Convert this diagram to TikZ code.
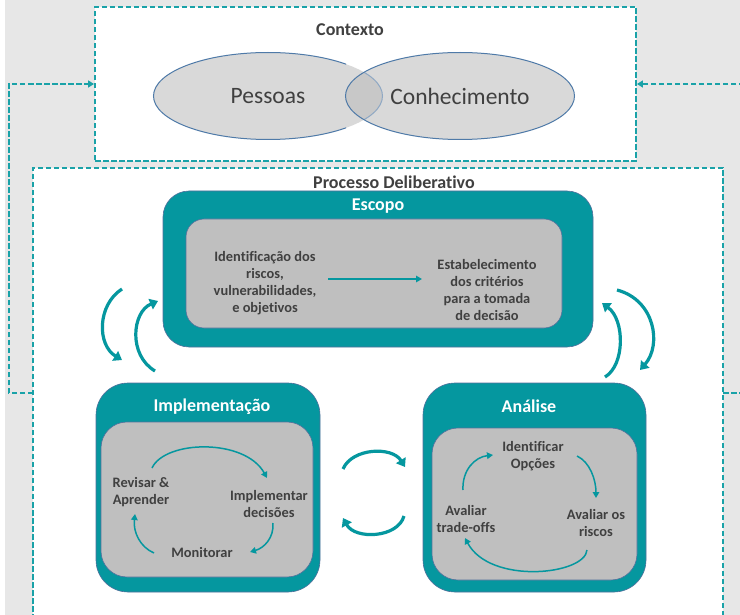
\documentclass[tikz,border=0pt]{standalone}
\usepackage{fontspec}
\setmainfont{Carlito}[Ligatures={NoCommon}]
\usetikzlibrary{arrows.meta,shapes.geometric}
\definecolor{tealA}{HTML}{05979F}
\definecolor{dashteal}{HTML}{1AA2A8}
\definecolor{innergrey}{HTML}{BFBFBF}
\definecolor{edgeblue}{HTML}{52709C}
\definecolor{txt}{HTML}{404040}
\definecolor{bggrey}{HTML}{E7E7E7}
\definecolor{elledge}{HTML}{4F7AA8}
\definecolor{elledgelight}{HTML}{8FA8C4}
\definecolor{ellfill}{HTML}{D9D9D9}
\definecolor{ellboth}{HTML}{C8C8C8}
\begin{document}
\begin{tikzpicture}[x=1pt,y=-1pt,
 dashline/.style={draw=dashteal, line width=1.9pt, dash pattern=on 5.5pt off 2.5pt},
 frame/.style={dashline, fill=white, inner sep=0pt},
 outerbox/.style={draw=edgeblue, line width=0.6pt, fill=tealA, rounded corners=28pt, inner sep=0pt},
 innerbox/.style={draw=edgeblue, line width=0.6pt, fill=innergrey, rounded corners=22pt, inner sep=0pt},
 heading/.style={font=\fontsize{18}{21}\selectfont\bfseries, text=txt, inner sep=0pt},
 boxtitle/.style={font=\fontsize{18}{21}\selectfont\bfseries, text=white, inner sep=0pt},
 item/.style={font=\fontsize{14.4}{17}\selectfont\bfseries, text=txt, align=center, inner sep=0pt},
 ell/.style={ellipse, fill=ellfill, text=txt, font=\fontsize{23.5}{28}\selectfont, inner sep=0pt, minimum width=229pt, minimum height=87pt},
 cyc/.style={draw=tealA, line width=1.5pt, -{Triangle[length=6pt,width=6.5pt]}},
 big/.style={draw=tealA, line width=3.2pt, -{Triangle[length=8pt,width=11pt]}},
 loop/.style={dashline, -{Triangle[length=6pt,width=7pt]}},
]
\useasboundingbox (0,0) rectangle (740,615);
\fill[bggrey] (5,0) rectangle (740,615);

% frames
\node[frame, minimum width=541pt, minimum height=154pt] (ctx) at (365.5,84) {};
\node[frame, minimum width=690pt, minimum height=462pt] (proc) at (378,399) {};

% context
\node[heading] (ctxlabel) at (350,30) {Contexto};
\node[ell] (pess) at (268,96) {};
\node[ell] (conh) at (460,96) {};
\begin{scope}
  \clip (conh.center) ellipse [x radius=114.5pt, y radius=43.5pt];
  \fill[ellboth] (pess.center) ellipse [x radius=114.5pt, y radius=43.5pt];
  \draw[elledgelight, line width=1pt] (pess.center) ellipse [x radius=114.5pt, y radius=43.5pt];
\end{scope}
\begin{scope}
  \clip (0,0) rectangle (346,200);
  \draw[elledge, line width=1pt] (pess.center) ellipse [x radius=114.5pt, y radius=43.5pt];
\end{scope}
\draw[elledge, line width=1pt] (conh.center) ellipse [x radius=114.5pt, y radius=43.5pt];
\node[text=txt, font=\fontsize{23.5}{28}\selectfont, inner sep=0pt] (pesst) at (pess.center) {Pessoas};
\node[text=txt, font=\fontsize{23.5}{28}\selectfont, inner sep=0pt] (conht) at (conh.center) {Conhecimento};

% feedback loops
\coordinate (lstart) at (33,393);
\coordinate (lc1) at (9,393);
\coordinate (lc2) at (9,84);
\draw[loop] (lstart) -- (lc1) -- (lc2) -- (ctx.west);
\coordinate (rstart) at (723,393);
\coordinate (rc1) at (747,393);
\coordinate (rc2) at (747,84);
\draw[loop] (rstart) -- (rc1) -- (rc2) -- (ctx.east);

\node[heading] (proclabel) at (394,182) {Processo Deliberativo};

% Escopo
\node[outerbox, minimum width=430pt, minimum height=156pt, rounded corners=26pt] (esc) at (378,269) {};
\node[innerbox, minimum width=376pt, minimum height=109pt, rounded corners=18pt] (escin) at (374,273.5) {};
\node[boxtitle] (esct) at (378,206) {Escopo};
\node[item] (ident) at (265,283) {Identificação dos\\riscos,\\vulnerabilidades,\\e objetivos};
\node[item] (estab) at (487,290) {Estabelecimento\\dos critérios\\para a tomada\\de decisão};
\coordinate (ea) at (328,279);
\coordinate (eb) at (422,279);
\draw[cyc] (ea) -- (eb);

% Implementacao
\node[outerbox, minimum width=224pt, minimum height=209pt, rounded corners=32pt] (impl) at (208,487.5) {};
\node[innerbox, minimum width=212pt, minimum height=155pt, rounded corners=26pt] (implin) at (207,499.5) {};
\node[boxtitle] (implt) at (212,407) {Implementação};
\node[item] (rev) at (141,492) {Revisar \&\\Aprender};
\node[item] (impd) at (269,504) {Implementar\\decisões};
\node[item] (mon) at (202,552) {Monitorar};
\coordinate (i1a) at (152,468); \coordinate (i1b) at (267,478);
\draw[cyc] (i1a) .. controls (165,440) and (245,438) .. (i1b);
\coordinate (i2a) at (273,523); \coordinate (i2b) at (250,552);
\draw[cyc] (i2a) .. controls (274,538) and (264,548) .. (i2b);
\coordinate (i3a) at (154,553); \coordinate (i3b) at (135,514);
\draw[cyc] (i3a) .. controls (140,547) and (133,532) .. (i3b);

% Analise
\node[outerbox, minimum width=223pt, minimum height=209pt, rounded corners=32pt] (anal) at (534.5,487.5) {};
\node[innerbox, minimum width=205pt, minimum height=152pt, rounded corners=26pt] (analin) at (534.5,504) {};
\node[boxtitle] (analt) at (529,406) {Análise};
\node[item] (idop) at (533,456) {Identificar\\Opções};
\node[item] (avr) at (596,523) {Avaliar os\\riscos};
\node[item] (avt) at (466,519) {Avaliar\\trade-offs};
\coordinate (a1a) at (463,490); \coordinate (a1b) at (493,455);
\draw[cyc] (a1a) .. controls (462,470) and (475,457) .. (a1b);
\coordinate (a2a) at (577,456); \coordinate (a2b) at (596,498);
\draw[cyc] (a2a) .. controls (590,462) and (596,480) .. (a2b);
\coordinate (a3a) at (587,550); \coordinate (a3b) at (465,538);
\draw[cyc] (a3a) .. controls (585,575) and (490,585) .. (a3b);

% big curved arrows between stages
\coordinate (bl1a) at (122,289); \coordinate (bl1b) at (122,360);
\draw[big] (bl1a) .. controls (97,305) and (97,345) .. (bl1b);
\coordinate (bl2a) at (155,371); \coordinate (bl2b) at (158,301);
\draw[big] (bl2a) .. controls (128,355) and (132,312) .. (bl2b);
\coordinate (br1a) at (617,290); \coordinate (br1b) at (640,370);
\draw[big] (br1a) .. controls (655,300) and (662,345) .. (br1b);
\coordinate (br2a) at (605,377); \coordinate (br2b) at (602,303);
\draw[big] (br2a) .. controls (625,365) and (625,320) .. (br2b);
\coordinate (bm1a) at (343,469); \coordinate (bm1b) at (405,467);
\draw[big] (bm1a) .. controls (352,448) and (392,446) .. (bm1b);
\coordinate (bm2a) at (404,516); \coordinate (bm2b) at (343,518);
\draw[big] (bm2a) .. controls (398,538) and (355,540) .. (bm2b);
\end{tikzpicture}
\end{document}
